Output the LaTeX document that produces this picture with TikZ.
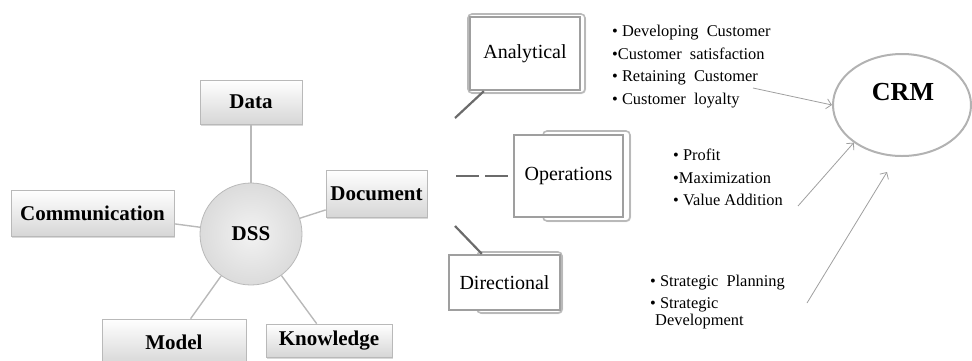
\documentclass[tikz,border=0pt]{standalone}
\usepackage{fontspec}
\setmainfont{Liberation Serif}
\usetikzlibrary{shadows,arrows.meta,shapes.geometric}

\tikzset{
  dssbox/.style={draw=gray!55, line width=0.6pt, top color=white, bottom color=gray!32,
    drop shadow={opacity=0.3, shadow xshift=1pt, shadow yshift=-1.5pt},
    inner sep=0pt, font=\fontsize{21}{25}\selectfont\bfseries},
  dsshub/.style={circle, draw=gray!55, line width=0.8pt, inner color=gray!10, outer color=gray!28,
    minimum size=102pt, inner sep=0pt, font=\fontsize{21}{25}\selectfont\bfseries},
  spoke/.style={draw=gray!55, line width=1.4pt},
  backcard/.style={draw=gray!55, line width=1.6pt, fill=white, rounded corners=4pt,
    drop shadow={opacity=0.25, shadow xshift=1pt, shadow yshift=-1pt}},
  frontcard/.style={draw=gray!75, line width=2.4pt, fill=white, inner sep=0pt,
    font=\fontsize{20}{24}\selectfont},
  link/.style={draw=black!58, line width=2.2pt},
  bullets/.style={align=left, inner sep=0pt, anchor=west, font=\fontsize{16.4}{22.5}\selectfont},
  feed/.style={draw=gray!75, line width=0.8pt, -{Straight Barb[length=5pt,width=10pt]}},
}

\begin{document}
\begin{tikzpicture}[x=1pt, y=-1pt]
\useasboundingbox (0,0) rectangle (972,360);
\clip (0,0) rectangle (972,360);

% ---- Decision support system hub ----
\node[dsshub] (dss) at (251,234) {DSS};
\node[dssbox, minimum width=102pt, minimum height=44pt] (data) at (251,102) {Data};
\node[dssbox, minimum width=163pt, minimum height=46pt] (comm) at (92.5,213) {Communication};
\node[dssbox, minimum width=101pt, minimum height=47pt] (doc) at (376.5,193.5) {Document};
\node[dssbox, minimum width=144pt, minimum height=46pt] (model) at (174,342) {Model};
\node[dssbox, minimum width=126pt, minimum height=33pt] (know) at (329,340.5) {Knowledge};

\draw[spoke] (dss) -- (data);
\draw[spoke] (dss) -- (comm);
\draw[spoke] (dss) -- (doc);
\draw[spoke] (dss) -- (model);
\draw[spoke] (dss) -- (know);

% ---- CRM categories ----
\draw[backcard] (468,14) rectangle (585,93);
\node[frontcard, minimum width=110pt, minimum height=73pt] (ana) at (525,53.5) {Analytical};

\draw[backcard] (543,131) rectangle (630,221);
\node[frontcard, minimum width=109pt, minimum height=82pt] (ops) at (568.5,176) {Operations};

\draw[backcard] (477,252) rectangle (562,313);
\node[frontcard, minimum width=111pt, minimum height=55pt] (dir) at (504.5,282.5) {Directional};

\coordinate (a0) at (455,118);
\coordinate (o0) at (456,176);
\coordinate (d0) at (455,226);
\draw[link] (a0) -- ([xshift=15pt]ana.south west);
\draw[link, dash pattern=on 23pt off 6pt] (o0) -- (ops.west);
\draw[link] (d0) -- ([xshift=34pt]dir.north west);

% ---- benefit lists ----
\node[bullets] (l1) at (612,66.5) {%
  • Developing\enspace Customer\\
  •Customer\enspace satisfaction\\
  • Retaining\enspace Customer\\
  • Customer\enspace loyalty};
\node[bullets] (l2) at (673,177.5) {%
  • Profit\\
  •Maximization\\
  • Value\ Addition};
\node[bullets] (l3) at (650,302) {%
  • Strategic\enspace Planning\\
  • Strategic\\[-5.5pt]
  \hspace*{5pt}Development};

% ---- CRM target ----
\node[ellipse, draw=gray!60, line width=2pt, minimum width=138pt, minimum height=102pt,
  inner sep=0pt] (crm) at (902,105) {};
\node[font=\fontsize{26}{30}\selectfont\bfseries, inner sep=0pt] (crmlabel) at (903,92) {CRM};

\coordinate (f1) at (753,88);
\coordinate (f2) at (798,206);
\coordinate (f3) at (807,303);
\coordinate (f3end) at (887,172);
\draw[feed] (f1) -- (crm.west);
\draw[feed] (f2) -- (crm.218);
\draw[feed] (f3) -- (f3end);
\end{tikzpicture}
\end{document}
